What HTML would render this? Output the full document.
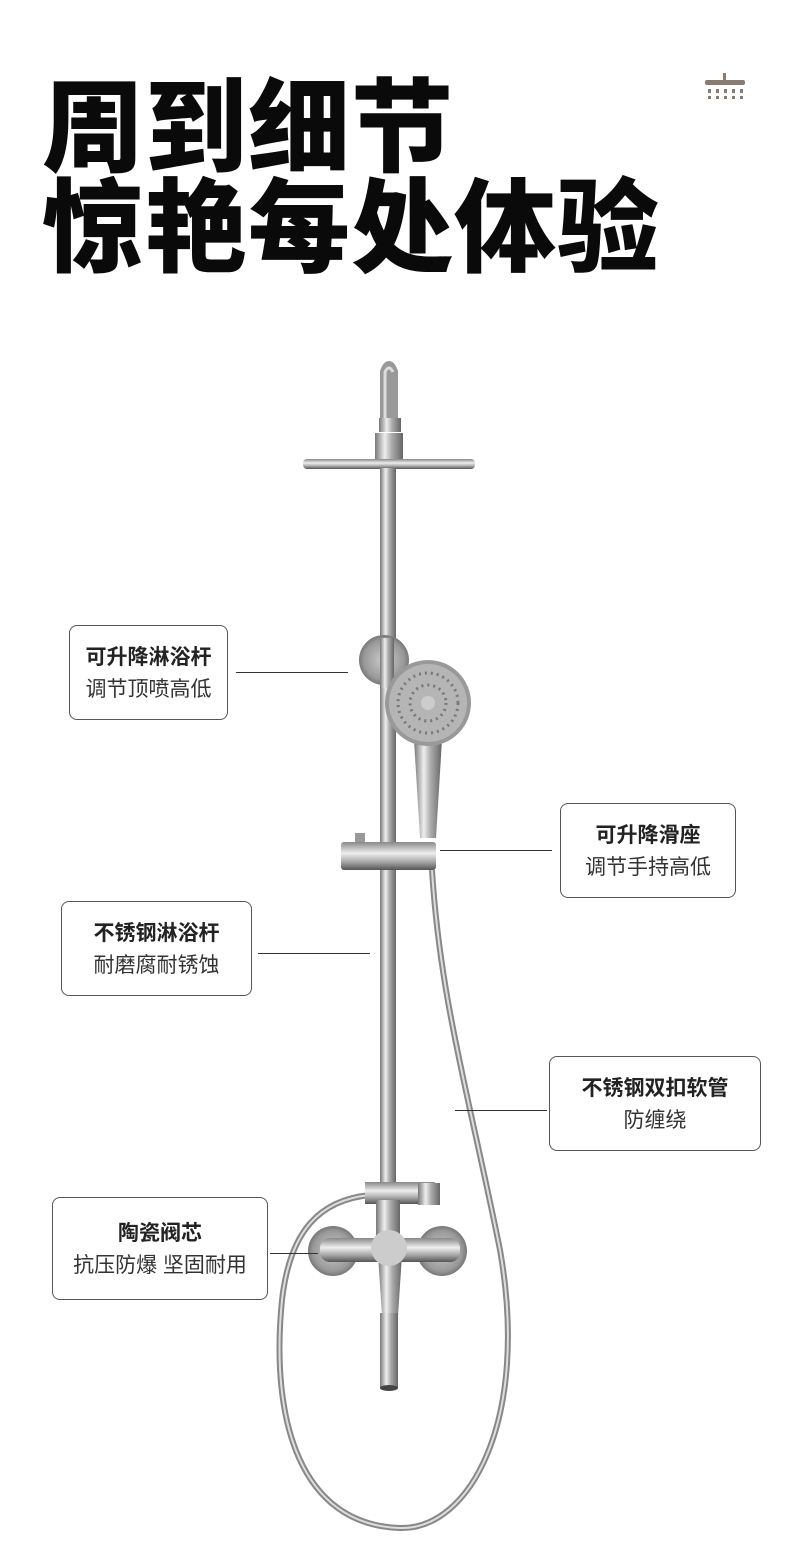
<!DOCTYPE html>
<html><head><meta charset="utf-8"><style>
body{margin:0;background:#fff;width:790px;height:1549px;position:relative;overflow:hidden;font-family:"Liberation Sans","Noto Sans CJK SC",sans-serif}
.t{position:absolute;left:42px;font-weight:900;font-size:102px;color:#0a0a0a;line-height:1;letter-spacing:1px;font-family:"Noto Sans CJK SC",sans-serif}
.b{position:absolute;border:1px solid #555;border-radius:8px;box-sizing:border-box;text-align:center;color:#222}
.b .h{font-weight:700;font-size:21px;margin-top:19px;line-height:26px}
.b .s{font-size:21px;margin-top:6px;line-height:26px;color:#333}
.l{position:absolute;height:1px;background:#333}
</style></head><body>
<div class="t" style="top:70px">周到细节</div>
<div class="t" style="top:170px">惊艳每处体验</div>
<svg style="position:absolute;left:700px;top:70px" width="50" height="36"><rect x="23" y="3" width="3" height="8" fill="#8a7b70"/><rect x="5" y="10" width="40" height="5" rx="2" fill="#8a7b70"/><g fill="#8a7b70"><rect x="8" y="19" width="3" height="4"/><rect x="16" y="19" width="3" height="4"/><rect x="24" y="19" width="3" height="4"/><rect x="32" y="19" width="3" height="4"/><rect x="40" y="19" width="3" height="4"/><rect x="8" y="26" width="3" height="3"/><rect x="16" y="26" width="3" height="3"/><rect x="24" y="26" width="3" height="3"/><rect x="32" y="26" width="3" height="3"/><rect x="40" y="26" width="3" height="3"/></g></svg>

<svg style="position:absolute;left:0;top:0" width="790" height="1549">
<defs>
<linearGradient id="m" x1="0" x2="1"><stop offset="0" stop-color="#777"/><stop offset=".35" stop-color="#eee"/><stop offset=".6" stop-color="#aaa"/><stop offset="1" stop-color="#666"/></linearGradient>
<linearGradient id="v" x1="0" y1="0" x2="0" y2="1"><stop offset="0" stop-color="#888"/><stop offset=".4" stop-color="#eee"/><stop offset=".7" stop-color="#aaa"/><stop offset="1" stop-color="#555"/></linearGradient>
<radialGradient id="r"><stop offset="0" stop-color="#ccc"/><stop offset=".8" stop-color="#999"/><stop offset="1" stop-color="#777"/></radialGradient>
</defs>
<path d="M432,870 C440,1000 470,1100 500,1250 C530,1420 470,1530 400,1528 C300,1525 270,1420 282,1300 C290,1230 320,1200 370,1195" fill="none" stroke="#888" stroke-width="6"/>
<path d="M432,870 C440,1000 470,1100 500,1250 C530,1420 470,1530 400,1528 C300,1525 270,1420 282,1300 C290,1230 320,1200 370,1195" fill="none" stroke="#ddd" stroke-width="2"/>
<path d="M385,420 L385,372 Q389,360 393,372 L393,420" fill="none" stroke="#999" stroke-width="10" stroke-linecap="round"/>
<path d="M385,420 L385,372 Q389,364 393,372" fill="none" stroke="#ddd" stroke-width="3"/>
<rect x="379" y="418" width="22" height="14" fill="url(#m)"/>
<rect x="375" y="433" width="28" height="26" fill="url(#m)"/>
<rect x="303" y="459" width="172" height="10" rx="4" fill="url(#v)"/>
<rect x="380" y="468" width="16" height="720" fill="url(#m)"/>
<circle cx="384" cy="660" r="25" fill="url(#r)"/>
<rect x="380" y="638" width="14" height="50" fill="url(#m)"/>
<path d="M414,740 L442,740 L436,838 L420,838 Z" fill="url(#m)"/>
<circle cx="428" cy="703" r="43" fill="#999"/>
<circle cx="428" cy="703" r="39" fill="#b5b5b5"/>
<circle cx="428" cy="703" r="30" fill="none" stroke="#777" stroke-width="3" stroke-dasharray="2 4"/>
<circle cx="428" cy="703" r="18" fill="none" stroke="#777" stroke-width="3" stroke-dasharray="2 4"/>
<circle cx="428" cy="703" r="7" fill="#ccc"/>
<rect x="341" y="842" width="95" height="28" rx="3" fill="url(#v)"/>
<rect x="355" y="833" width="10" height="9" fill="#999"/>
<rect x="365" y="1182" width="70" height="22" fill="url(#v)"/>
<rect x="418" y="1183" width="22" height="22" fill="url(#m)"/>
<rect x="376" y="1200" width="24" height="40" fill="url(#m)"/>
<circle cx="333" cy="1251" r="25" fill="url(#r)"/>
<circle cx="442" cy="1251" r="25" fill="url(#r)"/>
<rect x="320" y="1238" width="140" height="24" rx="10" fill="url(#v)"/>
<path d="M378,1255 L402,1255 L398,1316 L382,1316 Z" fill="url(#m)"/>
<circle cx="389" cy="1248" r="18" fill="#ccc"/>
<rect x="380" y="1313" width="18" height="75" fill="url(#m)"/>
<ellipse cx="389" cy="1388" rx="9" ry="3" fill="#444"/>
</svg>

<div class="l" style="left:236px;width:112px;top:672px"></div>
<div class="l" style="left:440px;width:112px;top:850px"></div>
<div class="l" style="left:258px;width:112px;top:953px"></div>
<div class="l" style="left:455px;width:92px;top:1110px"></div>
<div class="l" style="left:270px;width:48px;top:1253px"></div>

<div class="b" style="left:69px;top:625px;width:159px;height:95px"><div class="h">可升降淋浴杆</div><div class="s">调节顶喷高低</div></div>
<div class="b" style="left:560px;top:803px;width:176px;height:95px"><div class="h">可升降滑座</div><div class="s">调节手持高低</div></div>
<div class="b" style="left:61px;top:901px;width:191px;height:95px"><div class="h">不锈钢淋浴杆</div><div class="s">耐磨腐耐锈蚀</div></div>
<div class="b" style="left:549px;top:1056px;width:212px;height:95px"><div class="h">不锈钢双扣软管</div><div class="s">防缠绕</div></div>
<div class="b" style="left:52px;top:1197px;width:216px;height:103px"><div class="h" style="margin-top:23px">陶瓷阀芯</div><div class="s">抗压防爆 坚固耐用</div></div>
</body></html>
